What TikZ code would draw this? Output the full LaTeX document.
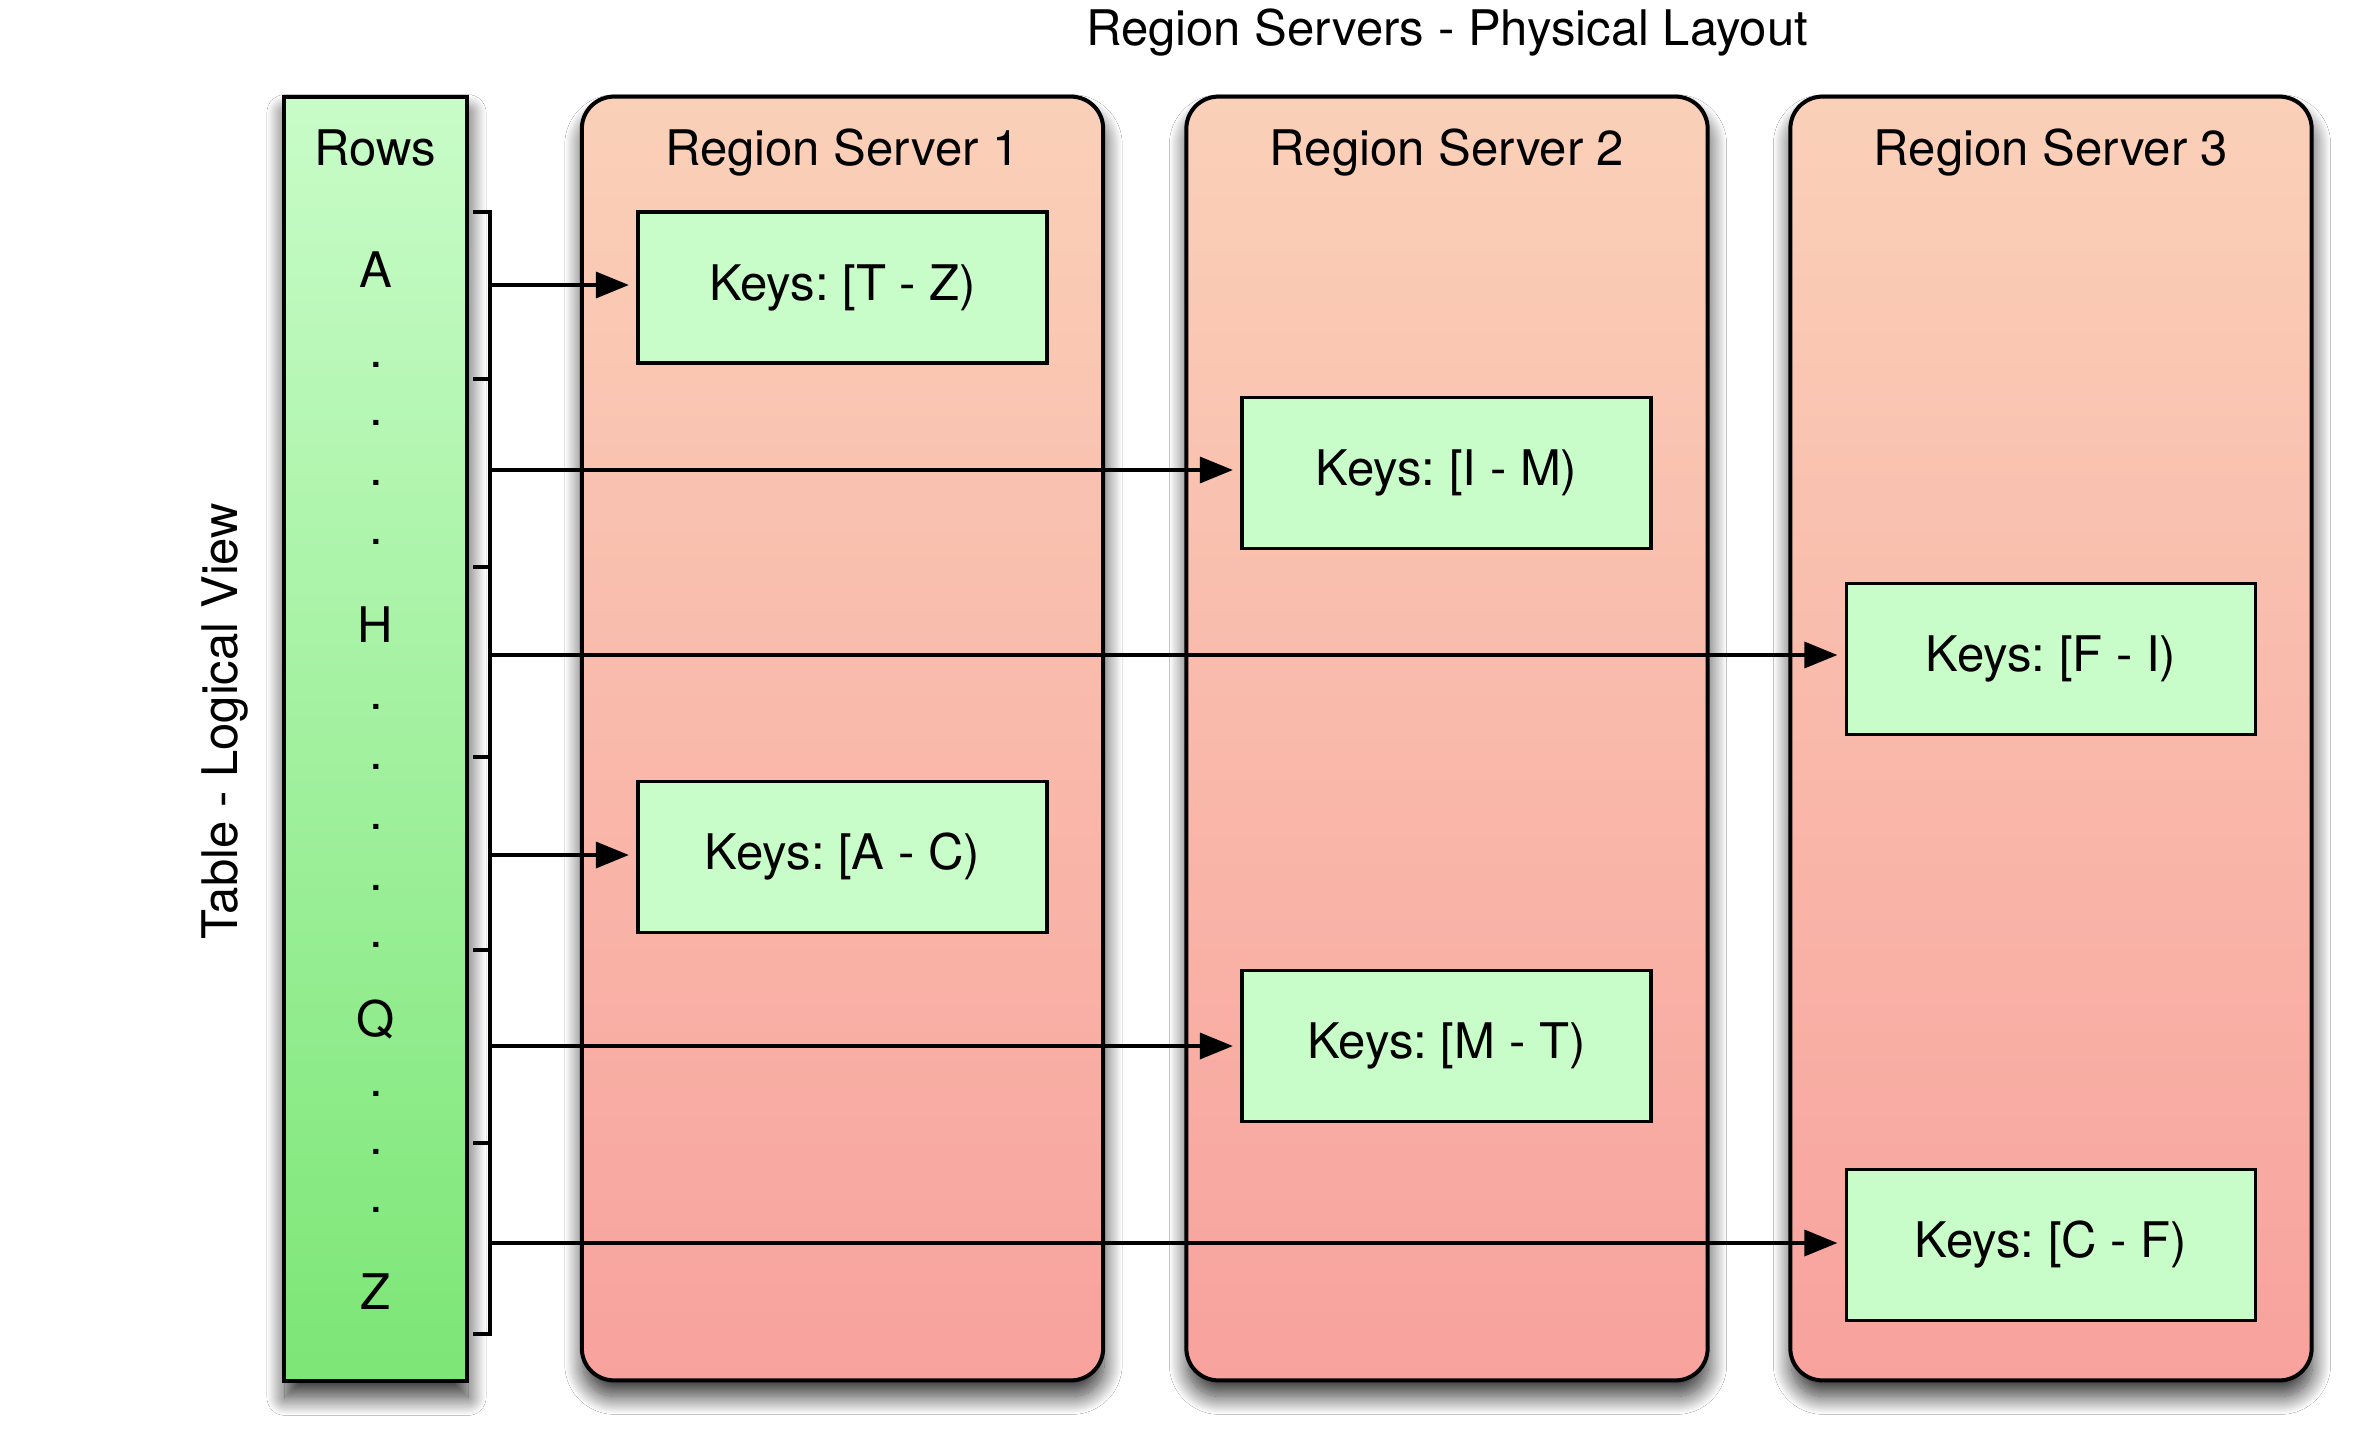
\documentclass[tikz,border=0pt]{standalone}
\usepackage{fontspec}
\setmainfont{TeX Gyre Heros}
\usetikzlibrary{arrows.meta,shadows.blur}
\definecolor{keyfill}{RGB}{200,252,200}
\definecolor{rowtop}{RGB}{200,252,200}
\definecolor{rowbot}{RGB}{124,230,118}
\definecolor{srvtop}{RGB}{250,208,184}
\definecolor{srvbot}{RGB}{248,162,157}
\begin{document}
\frenchspacing
\begin{tikzpicture}[x=0.01cm,y=-0.01cm,
  every node/.style={font=\fontsize{13.95pt}{16pt}\selectfont, inner sep=0pt, outer sep=0pt},
  shad/.style={blur shadow={shadow xshift=0.01cm, shadow yshift=-0.16cm, shadow blur radius=0.18cm, shadow blur steps=24, shadow opacity=80}},
  server/.style={shad, draw=black, line width=0.04cm, rounded corners=0.32cm, top color=srvtop, bottom color=srvbot, minimum width=5.21cm, minimum height=12.83cm},
  rowcol/.style={shad, draw=black, line width=0.04cm, top color=rowtop, bottom color=rowbot, minimum width=1.83cm, minimum height=12.84cm},
  keybox/.style={draw=black, line width=0.035cm, fill=keyfill, minimum width=4.09cm, minimum height=1.51cm},
  lbl/.style={anchor=base},
  dotmark/.style={anchor=center},
  arr/.style={line width=0.035cm, -{Triangle[length=0.33cm,width=0.26cm]}, shorten >=0.09cm},
  brk/.style={line width=0.035cm, line join=miter}
]
\useasboundingbox (0,0) rectangle (2359,1445);
\fill[white] (0,0) rectangle (2359,1445);

% title
\node[lbl] (title) at (1447,45) {Region Servers - Physical Layout};

% servers
\node[server] (s1) at (842.5,738.5) {};
\node[server] (s2) at (1447,738.5) {};
\node[server] (s3) at (2051,738.5) {};
\node[lbl] (s1l) at (842.5,165) {Region Server 1};
\node[lbl] (s2l) at (1447,165) {Region Server 2};
\node[lbl] (s3l) at (2051,165) {Region Server 3};

% rows column
\node[rowcol] (rows) at (375.5,739) {};
\node[lbl] (rowsl) at (375.5,165) {Rows};
\node[lbl] (rA) at (375.5,287) {A};
\node[lbl] (rH) at (375.5,642) {H};
\node[lbl] (rQ) at (375.5,1036) {Q};
\node[lbl] (rZ) at (375.5,1309) {Z};
\foreach \y [count=\i] in {365,423,483,542,707,767,827,888,945,1094,1152,1210}
  \node[dotmark] (d\i) at (376,\y) {.};

% side label
\node[rotate=90, anchor=base] (tlv) at (237,721) {Table - Logical View};

% key boxes
\node[keybox] (tz) at (842.5,287.5) {Keys: [T - Z)};
\node[keybox] (im) at (1446.5,473) {Keys: [I - M)};
\node[keybox] (fi) at (2051,659) {Keys: [F - I)};
\node[keybox] (ac) at (842.5,857) {Keys: [A - C)};
\node[keybox] (mt) at (1446.5,1046) {Keys: [M - T)};
\node[keybox] (cf) at (2051,1245) {Keys: [C - F)};

% bracket
\draw[brk] (473,212) -- (490,212) -- (490,1334) -- (473,1334);
\foreach \y in {379,567,757,950,1143}
  \draw[brk] (473,\y) -- (490,\y);

% arrows
\coordinate (b1) at (490,285);
\coordinate (b2) at (490,470);
\coordinate (b3) at (490,655);
\coordinate (b4) at (490,855);
\coordinate (b5) at (490,1046);
\coordinate (b6) at (490,1243);
\draw[arr] (b1) -- (b1 -| tz.west);
\draw[arr] (b2) -- (b2 -| im.west);
\draw[arr] (b3) -- (b3 -| fi.west);
\draw[arr] (b4) -- (b4 -| ac.west);
\draw[arr] (b5) -- (b5 -| mt.west);
\draw[arr] (b6) -- (b6 -| cf.west);
\end{tikzpicture}
\end{document}
